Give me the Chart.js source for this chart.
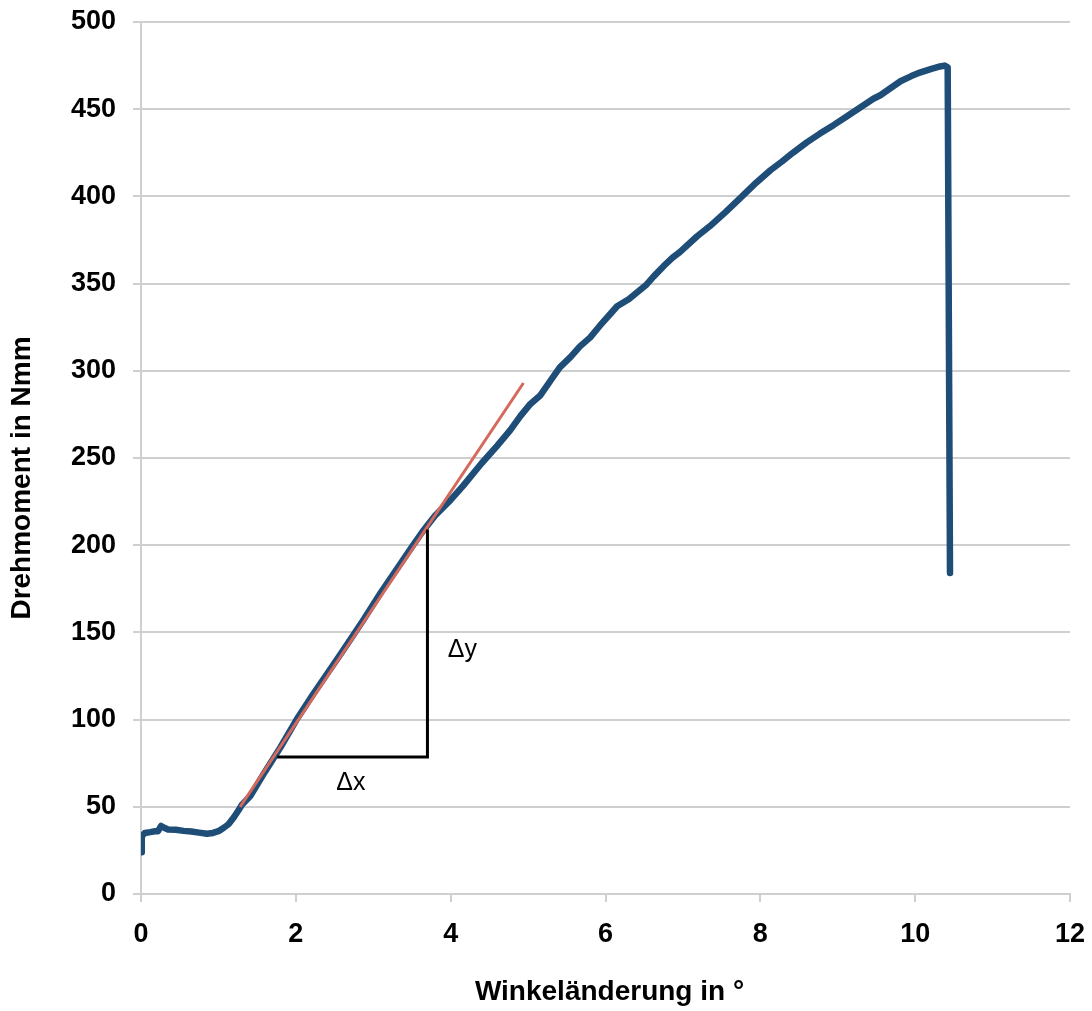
<!DOCTYPE html>
<html>
<head>
<meta charset="utf-8">
<script src="https://cdn.jsdelivr.net/npm/chart.js@4/dist/chart.umd.min.js"></script>
<style>
  html, body { margin: 0; padding: 0; background: #ffffff; }
  #wrap { width: 1092px; height: 1011px; position: relative; }
</style>
</head>
<body>
<div id="wrap"><canvas id="c" width="1092" height="1011"></canvas></div>
<script>
// Torsion test: measured torque over angle change
const angle = [
  0.00, 0.01, 0.05, 0.12, 0.18, 0.22, 0.26, 0.30, 0.35, 0.45, 0.55, 0.65, 0.75, 0.85, 0.93,
  1.00, 1.07, 1.13, 1.20, 1.26, 1.30, 1.41, 1.60, 1.80, 2.01, 2.20, 2.40, 2.60, 2.87, 3.10,
  3.30, 3.50, 3.64, 3.80, 4.00, 4.16, 4.40, 4.60, 4.77, 4.90, 5.03, 5.16, 5.30, 5.41, 5.55,
  5.67, 5.80, 5.93, 6.05, 6.15, 6.30, 6.41, 6.52, 6.62, 6.75, 6.87, 6.96, 7.18, 7.35, 7.55,
  7.74, 7.95, 8.13, 8.28, 8.42, 8.60, 8.77, 8.95, 9.12, 9.29, 9.46, 9.55, 9.68, 9.81, 9.95,
  10.06, 10.20, 10.32, 10.38, 10.42, 10.45
];
const torque = [
  24, 33, 35, 35.5, 36, 36, 39, 38, 37, 36.8, 36.2, 35.8, 35.2, 34.5, 35,
  36, 38, 40, 44, 48, 51, 56, 70, 84, 100, 113, 126, 139, 157, 173,
  186, 199, 208, 217, 226, 234, 247, 257, 266, 274, 281, 286, 295, 302, 308,
  314, 319, 326, 332, 337, 341, 345, 349, 354, 360, 365, 368, 377, 383, 391,
  399, 408, 415, 420, 425, 431, 436, 441, 446, 451, 456, 458, 462, 466, 469,
  471, 473, 474.5, 475, 474, 184
];

// Tangent through the linear (elastic) region
const tangentAngle = [1.28, 4.94];
const tangentTorque = [50, 293];

// Slope triangle
const deltaAngle = [1.76, 3.70, 3.70];
const deltaTorque = [78.6, 78.6, 209];

// Triangle labels
const deltaLabels = ['\u0394x', '\u0394y'];
const deltaLabelAngle = [2.71, 4.15];
const deltaLabelTorque = [63.6, 140];

const xTitle = 'Winkeländerung in °';
const yTitle = 'Drehmoment in Nmm';

const FONT = "'Liberation Sans', Arial, Helvetica, sans-serif";
const GRID = '#cfcfcf';

const toPoints = (xs, ys) => xs.map((x, i) => ({ x, y: ys[i] }));

// fixed axis box sizes; label overhang is covered by layout padding
const noOverhang = (scale) => {
  scale.paddingTop = 0; scale.paddingBottom = 0;
  scale.paddingLeft = 0; scale.paddingRight = 0;
};

const annotations = {
  id: 'annotations',
  afterDatasetsDraw(chart) {
    const { ctx, scales: { x, y }, chartArea } = chart;
    ctx.save();
    ctx.fillStyle = '#000';
    ctx.textAlign = 'center';
    ctx.textBaseline = 'middle';
    ctx.font = `25px ${FONT}`;
    deltaLabels.forEach((t, i) => {
      ctx.fillText(t, x.getPixelForValue(deltaLabelAngle[i]), y.getPixelForValue(deltaLabelTorque[i]));
    });
    // axis titles
    ctx.font = `bold 28px ${FONT}`;
    ctx.fillText(xTitle, (chartArea.left + chartArea.right) / 2 + 4, 992);
    ctx.translate(22, (chartArea.top + chartArea.bottom) / 2 + 20);
    ctx.rotate(-Math.PI / 2);
    ctx.fillText(yTitle, 0, 0);
    ctx.restore();
  }
};

new Chart(document.getElementById('c'), {
  type: 'scatter',
  data: {
    datasets: [
      {
        label: 'Dreieck',
        data: toPoints(deltaAngle, deltaTorque),
        showLine: true,
        borderColor: '#000000',
        borderWidth: 3,
        pointRadius: 0,
        tension: 0,
        fill: false
      },
      {
        label: 'Tangente',
        data: toPoints(tangentAngle, tangentTorque),
        showLine: true,
        borderColor: '#d4695c',
        borderWidth: 3,
        pointRadius: 0,
        tension: 0,
        fill: false
      },
      {
        label: 'Drehmoment',
        data: toPoints(angle, torque),
        showLine: true,
        borderColor: '#1e4d78',
        borderWidth: 6.5,
        borderJoinStyle: 'round',
        borderCapStyle: 'round',
        pointRadius: 0,
        tension: 0,
        fill: false
      }
    ]
  },
  options: {
    responsive: false,
    animation: false,
    layout: { padding: { top: 22, right: 22, left: 0, bottom: 0 } },
    plugins: { legend: { display: false }, tooltip: { enabled: false } },
    scales: {
      x: {
        type: 'linear',
        min: 0, max: 12,
        afterFit(scale) { scale.height = 117; noOverhang(scale); },
        ticks: { stepSize: 2, color: '#000', padding: 16, font: { family: FONT, size: 27, weight: 'bold' } },
        grid: { drawOnChartArea: false, drawTicks: true, tickLength: 8, color: GRID, lineWidth: 2 },
        border: { color: GRID, width: 2 }
      },
      y: {
        type: 'linear',
        min: 0, max: 500,
        afterFit(scale) { scale.width = 141; noOverhang(scale); },
        ticks: { stepSize: 50, color: '#000', padding: 17, font: { family: FONT, size: 27, weight: 'bold' } },
        grid: { drawOnChartArea: true, drawTicks: true, tickLength: 8, color: GRID, lineWidth: 2 },
        border: { color: GRID, width: 2 }
      }
    }
  },
  plugins: [annotations]
});
</script>
</body>
</html>
